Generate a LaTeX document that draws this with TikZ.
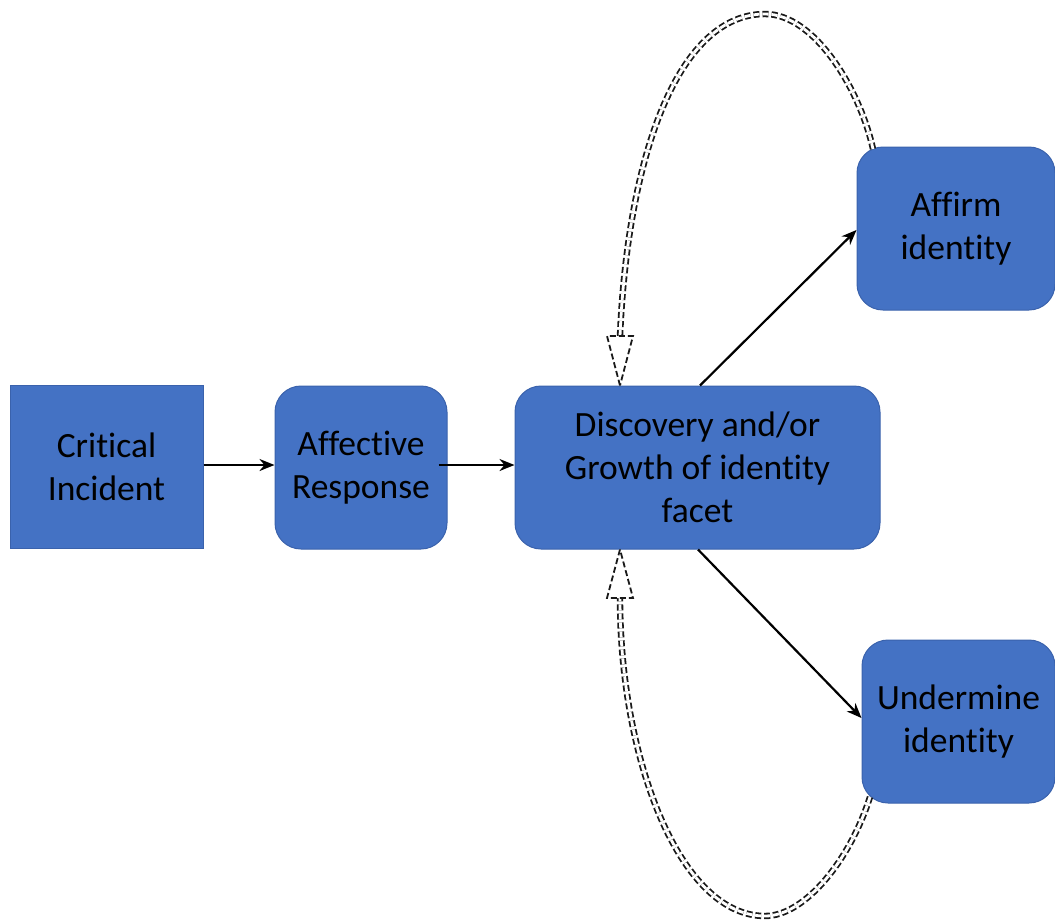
\documentclass[tikz,border=0pt]{standalone}
\usepackage{fontspec}
\setmainfont[Ligatures=NoCommon]{Carlito}
\usetikzlibrary{arrows.meta,calc}
\definecolor{boxblue}{HTML}{4472C4}
\definecolor{boxedge}{HTML}{3A62AC}
\tikzset{
  box/.style={fill=boxblue, draw=boxedge, line width=1pt, align=center,
    font=\fontsize{35.5}{43}\selectfont, text=black, inner sep=0pt},
  rbox/.style={box, rounded corners=26pt},
  flow/.style={line width=2.2pt, -{Stealth[length=15pt,width=12pt]}},
  loop/.style={draw=black!90, line width=1.8pt, double=white, double distance=2.8pt, dash pattern=on 6pt off 3pt},
  hollowtip/.style={draw=black!90, line width=1.8pt, dash pattern=on 6pt off 3pt, fill=white, line join=miter}
}
\begin{document}
\begin{tikzpicture}[x=1pt,y=-1pt]
\useasboundingbox (0,0) rectangle (1055,922);
\node[box, minimum width=193pt, minimum height=163pt] (ci) at (106.5,466.5) {Critical\\Incident};
\node[rbox, minimum width=172pt, minimum height=163pt] (ar) at (361,467.5) {Affective\\Response};
\node[rbox, minimum width=365pt, minimum height=163pt] (dg) at (697.5,467.5) {Discovery and/or\\Growth of identity\\facet};
\node[rbox, minimum width=198pt, minimum height=163pt] (af) at (956,228.5) {Affirm\\identity};
\node[rbox, minimum width=193pt, minimum height=163pt] (ud) at (958.5,721.5) {Undermine\\identity};

\draw[flow] (ci.east |- 0,465) -- (ar.west |- 0,465);
\draw[flow] (ar.east |- 0,465) ++(-9,0) -- (dg.west |- 0,465);
\draw[flow] (dg.north -| 700,0) -- (af.west |- 0,230);
\draw[flow] (dg.south -| 698,0) -- (ud.west |- 0,718);

% upper feedback loop
\coordinate (ustart) at (873,149);
\coordinate (ubase) at (620,336);
\coordinate (utip) at (dg.north -| 620,0);
\draw[loop] (ustart) .. controls (860,90) and (815,14) .. (765,14)
  .. controls (680,14) and (628,150) .. (ubase);
\draw[hollowtip] (utip) -- ($(ubase)+(-13,0)$) -- ($(ubase)+(13,0)$) -- cycle;

% lower feedback loop
\coordinate (lstart) at (870,797);
\coordinate (lbase) at (620,598);
\coordinate (ltip) at (dg.south -| 620,0);
\draw[loop] (lstart) .. controls (850,860) and (805,916) .. (765,916)
  .. controls (680,916) and (620,760) .. (lbase);
\draw[hollowtip] (ltip) -- ($(lbase)+(-13,0)$) -- ($(lbase)+(13,0)$) -- cycle;
\end{tikzpicture}
\end{document}
